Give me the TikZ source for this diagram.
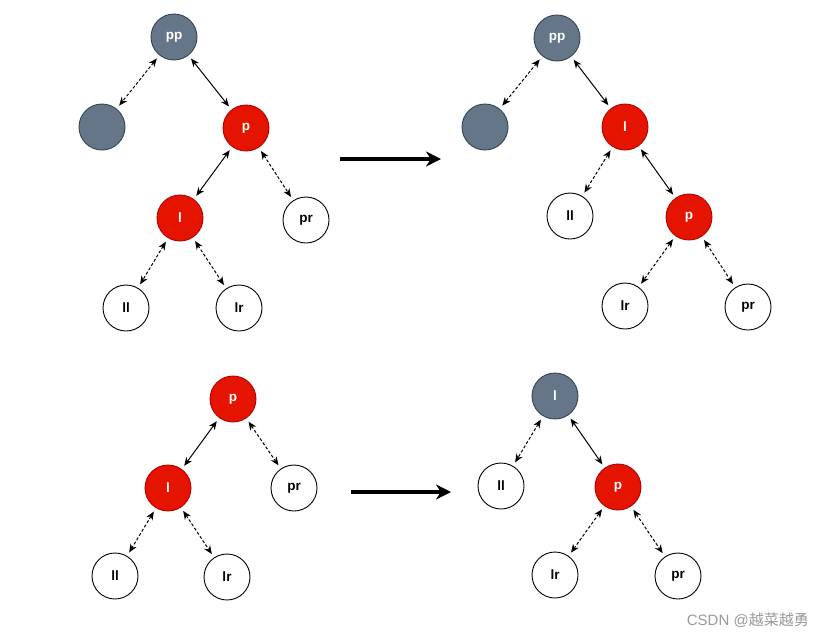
\documentclass[tikz,border=0pt]{standalone}
\usepackage{fontspec}
\setmainfont{Liberation Sans}
\newfontfamily\cjk{Noto Sans CJK SC}
\usetikzlibrary{arrows.meta}
\definecolor{grayfill}{HTML}{647687}
\definecolor{graydraw}{HTML}{314354}
\definecolor{redfill}{HTML}{E51400}
\definecolor{reddraw}{HTML}{B20000}
\tikzset{
  nd/.style={circle,minimum size=46pt,inner sep=0pt,font=\bfseries\fontsize{13.5}{15}\selectfont,line width=0.9pt},
  gnode/.style={nd,fill=grayfill,draw=graydraw,text=white},
  rnode/.style={nd,fill=redfill,draw=reddraw,text=white},
  wnode/.style={nd,fill=white,draw=black,text=black},
  lnk/.style={line width=1pt,{Stealth[length=8.5pt,width=7pt]}-{Stealth[length=8.5pt,width=7pt]},shorten <=4pt,shorten >=4pt},
  dlnk/.style={lnk,dash pattern=on 3pt off 2pt},
  bigarrow/.style={line width=3.2pt,-{Stealth[length=15pt,width=15pt]}}
}
\begin{document}
\begin{tikzpicture}[x=1pt,y=-1pt]
\useasboundingbox[fill=white] (0,0) rectangle (822,638);
% top-left tree
\node[gnode] (a1pp) at (174,37) {pp};
\node[gnode] (a1g) at (102,127) {};
\node[rnode] (a1p) at (246,128) {p};
\node[rnode] (a1l) at (180,218) {l};
\node[wnode] (a1pr) at (306,220) {pr};
\node[wnode] (a1ll) at (126,308) {ll};
\node[wnode] (a1lr) at (239,308) {lr};
\draw[dlnk] (a1pp) -- (a1g);
\draw[lnk] (a1pp) -- (a1p);
\draw[lnk] (a1p) -- (a1l);
\draw[dlnk] (a1p) -- (a1pr);
\draw[dlnk] (a1l) -- (a1ll);
\draw[dlnk] (a1l) -- (a1lr);
% arrow 1
\coordinate (ar1s) at (340,159);
\coordinate (ar1e) at (441,159);
\draw[bigarrow] (ar1s) -- (ar1e);
% top-right tree
\node[gnode] (b1pp) at (557,38) {pp};
\node[gnode] (b1g) at (485,127) {};
\node[rnode] (b1l) at (625,127) {l};
\node[wnode] (b1ll) at (570,216) {ll};
\node[rnode] (b1p) at (689,217) {p};
\node[wnode] (b1lr) at (625,306) {lr};
\node[wnode] (b1pr) at (748,307) {pr};
\draw[dlnk] (b1pp) -- (b1g);
\draw[lnk] (b1pp) -- (b1l);
\draw[dlnk] (b1l) -- (b1ll);
\draw[lnk] (b1l) -- (b1p);
\draw[dlnk] (b1p) -- (b1lr);
\draw[dlnk] (b1p) -- (b1pr);
% bottom-left tree
\node[rnode] (a2p) at (233,399) {p};
\node[rnode] (a2l) at (168,488) {l};
\node[wnode] (a2pr) at (294,488) {pr};
\node[wnode] (a2ll) at (115,576) {ll};
\node[wnode] (a2lr) at (227,577) {lr};
\draw[lnk] (a2p) -- (a2l);
\draw[dlnk] (a2p) -- (a2pr);
\draw[dlnk] (a2l) -- (a2ll);
\draw[dlnk] (a2l) -- (a2lr);
% arrow 2
\coordinate (ar2s) at (351,492);
\coordinate (ar2e) at (451,492);
\draw[bigarrow] (ar2s) -- (ar2e);
% bottom-right tree
\node[gnode] (b2l) at (555,396) {l};
\node[wnode] (b2ll) at (501,486) {ll};
\node[rnode] (b2p) at (618,487) {p};
\node[wnode] (b2lr) at (555,575) {lr};
\node[wnode] (b2pr) at (678,576) {pr};
\draw[dlnk] (b2l) -- (b2ll);
\draw[lnk] (b2l) -- (b2p);
\draw[dlnk] (b2p) -- (b2lr);
\draw[dlnk] (b2p) -- (b2pr);
% watermark
\node[text=black!40,font=\fontsize{15}{17}\selectfont,anchor=east,inner sep=0pt] (wm) at (809,620) {CSDN @{\cjk 越菜越勇}};
\end{tikzpicture}
\end{document}
